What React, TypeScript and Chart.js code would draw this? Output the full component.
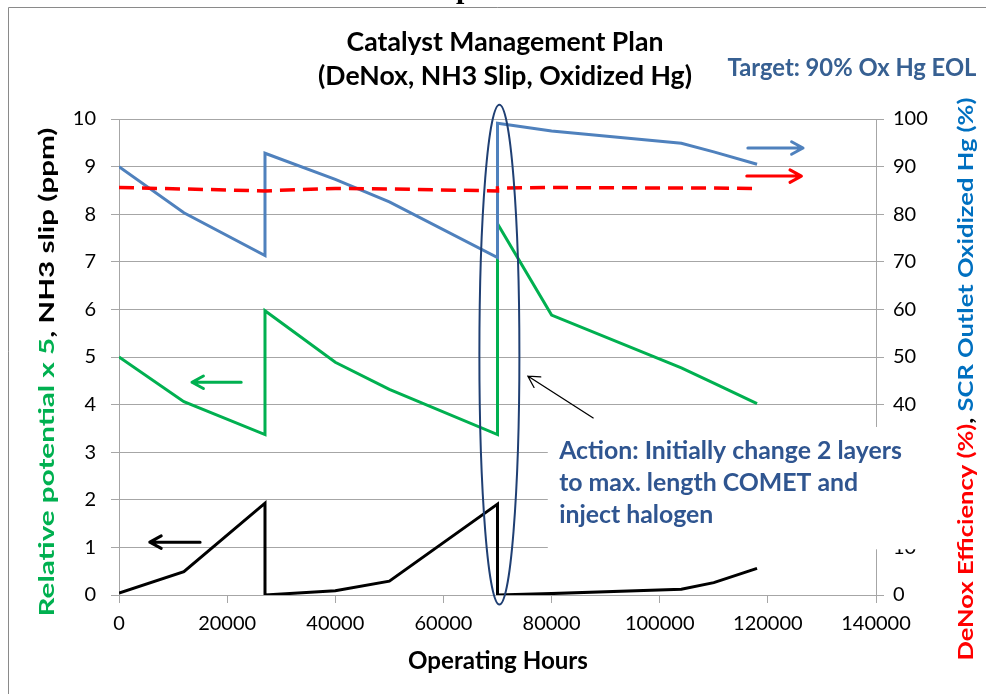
import React, { useEffect, useRef } from 'react';
import { Chart, registerables } from 'chart.js';

Chart.register(...registerables);

// ---------- data ----------
const hours = [0, 12000, 27000, 27000, 40000, 50000, 70000, 70000, 80000, 104000, 110000, 118000];
const relativePotentialX5 = [5.0, 4.06, 3.37, 5.97, 4.89, 4.32, 3.37, 7.8, 5.88, 4.77, 4.45, 4.02];
const nh3Slip = [0.04, 0.49, 1.93, 0.0, 0.09, 0.29, 1.91, 0.0, 0.03, 0.12, 0.26, 0.56];
const oxidizedHg = [90, 80.3, 71.3, 92.8, 87.3, 82.6, 70.9, 99.1, 97.5, 94.9, 93.1, 90.5];
const deNoxEfficiency = [85.6, 85.3, 84.9, 84.9, 85.4, 85.3, 84.9, 85.5, 85.6, 85.5, 85.5, 85.4];

const xRange = [0, 140000];
const xStep = 20000;
const leftRange = [0, 10];
const leftStep = 1;
const rightRange = [0, 100];
const rightStep = 10;

const titleLines = ['Catalyst Management Plan', '(DeNox, NH3 Slip, Oxidized Hg)'];
const targetText = 'Target: 90% Ox Hg EOL';
const xTitle = 'Operating Hours';
const leftTitle = [
  { t: 'Relative potential x 5', c: '#00B050' },
  { t: ', NH3 slip (ppm)', c: '#000000' },
];
const rightTitle = [
  { t: 'DeNox Efficiency (%)', c: '#FF0000' },
  { t: ', ', c: '#000000' },
  { t: 'SCR Outlet Oxidized Hg (%)', c: '#0070C0' },
];
const actionLines = ['Action: Initially change 2 layers', 'to max. length COMET and', 'inject halogen'];

const FONT = '"Lato", "DejaVu Sans", sans-serif';

function pts(ys: number[]) {
  return hours.map((h, i) => ({ x: h, y: ys[i] }));
}

function fitSize(ctx: CanvasRenderingContext2D, text: string, weight: string, width: number) {
  ctx.font = `${weight} 100px ${FONT}`;
  const w = ctx.measureText(text).width;
  return (100 * width) / w;
}

function arrow(ctx: CanvasRenderingContext2D, x1: number, y1: number, x2: number, y2: number, color: string, lw: number, head: number) {
  const a = Math.atan2(y2 - y1, x2 - x1);
  const s = 0.5;
  ctx.save();
  ctx.strokeStyle = color;
  ctx.lineWidth = lw;
  ctx.lineCap = 'round';
  ctx.lineJoin = 'round';
  ctx.beginPath();
  ctx.moveTo(x1, y1);
  ctx.lineTo(x2, y2);
  ctx.moveTo(x2 - head * Math.cos(a - s), y2 - head * Math.sin(a - s));
  ctx.lineTo(x2, y2);
  ctx.lineTo(x2 - head * Math.cos(a + s), y2 - head * Math.sin(a + s));
  ctx.stroke();
  ctx.restore();
}

// draws coloured segments rotated -90deg, at a fixed font size, squeezed horizontally to the target length
function rotatedSegments(ctx: CanvasRenderingContext2D, segs: { t: string; c: string }[], cx: number, cy: number, width: number, size: number) {
  const full = segs.map((s) => s.t).join('');
  ctx.save();
  ctx.font = `bold ${size}px ${FONT}`;
  const w = ctx.measureText(full).width;
  ctx.translate(cx, cy);
  ctx.rotate(-Math.PI / 2);
  ctx.scale(width / w, 1);
  ctx.textBaseline = 'middle';
  ctx.textAlign = 'left';
  let x = -w / 2;
  for (const s of segs) {
    ctx.fillStyle = s.c;
    ctx.fillText(s.t, x, 0);
    x += ctx.measureText(s.t).width;
  }
  ctx.restore();
}

const overlayPlugin = {
  id: 'overlay',
  beforeDraw(chart: any) {
    const ctx: CanvasRenderingContext2D = chart.ctx;
    ctx.save();
    ctx.fillStyle = '#ffffff';
    ctx.fillRect(0, 0, chart.width, chart.height);
    ctx.strokeStyle = '#8a8a8a';
    ctx.lineWidth = 1;
    ctx.beginPath();
    ctx.moveTo(8.5, chart.height + 5);
    ctx.lineTo(8.5, 7.5);
    ctx.lineTo(chart.width + 5, 7.5);
    ctx.stroke();
    ctx.fillStyle = '#000';
    ctx.font = 'bold 30px "Liberation Serif", serif';
    ctx.textBaseline = 'alphabetic';
    ctx.textAlign = 'left';
    ctx.fillText('p', 456, -2);
    ctx.restore();
  },
  afterDraw(chart: any) {
    const ctx: CanvasRenderingContext2D = chart.ctx;
    const xs = chart.scales.x;
    const yl = chart.scales.y;
    const yr = chart.scales.y2;
    const px = (v: number) => xs.getPixelForValue(v);
    const py = (v: number) => yl.getPixelForValue(v);
    const pr = (v: number) => yr.getPixelForValue(v);
    ctx.save();

    // white text box covering part of the right axis
    const bx0 = px(79300), bx1 = px(151000), by0 = py(3.53), by1 = py(0.96);
    ctx.fillStyle = '#ffffff';
    ctx.fillRect(bx0, by0, bx1 - bx0, by1 - by0);

    // action text
    const aSize = fitSize(ctx, actionLines[0], 'bold', 343);
    ctx.font = `bold ${aSize}px ${FONT}`;
    ctx.fillStyle = '#2F5590';
    ctx.textBaseline = 'middle';
    ctx.textAlign = 'left';
    const lineYs = [3.03, 2.36, 1.69];
    actionLines.forEach((l, i) => ctx.fillText(l, px(81400), py(lineYs[i])));

    // pointer arrow from text to ellipse
    arrow(ctx, px(87700), py(3.72), px(75600), py(4.6), '#000000', 1.3, 13);

    // series arrows
    arrow(ctx, px(116300), pr(93.9), px(126500), pr(93.9), '#4F81BD', 3, 13);
    arrow(ctx, px(116100), pr(88.0), px(126200), pr(88.0), '#FF0000', 3, 13);
    arrow(ctx, px(22600), py(4.47), px(13500), py(4.47), '#00B050', 3, 13);
    arrow(ctx, px(15000), py(1.11), px(5700), py(1.11), '#000000', 3, 13);

    // ellipse around the change-out
    const ecx = px(70350), ecy = py(5.05);
    const erx = px(70350 + 3700) - ecx;
    const ery = py(0) - py(5.25);
    ctx.strokeStyle = '#1F3F73';
    ctx.lineWidth = 2;
    ctx.beginPath();
    ctx.ellipse(ecx, ecy, erx, ery, 0, 0, Math.PI * 2);
    ctx.stroke();

    // titles
    const tSize = fitSize(ctx, titleLines[1], 'bold', 374);
    ctx.font = `bold ${tSize}px ${FONT}`;
    ctx.fillStyle = '#000';
    ctx.textAlign = 'center';
    ctx.textBaseline = 'middle';
    ctx.fillText(titleLines[0], 505, 42);
    ctx.fillText(titleLines[1], 505, 76);

    const tgSize = fitSize(ctx, targetText, 'bold', 249);
    ctx.font = `bold ${tgSize}px ${FONT}`;
    ctx.fillStyle = '#376092';
    ctx.fillText(targetText, 852, 68);

    const xtSize = fitSize(ctx, xTitle, 'bold', 180);
    ctx.font = `bold ${xtSize}px ${FONT}`;
    ctx.fillStyle = '#000';
    ctx.fillText(xTitle, 498, 661);

    rotatedSegments(ctx, leftTitle, 47, 372, 489, 21);
    rotatedSegments(ctx, rightTitle, 966, 379, 563, 21);

    ctx.restore();
  },
};

export default function App() {
  const ref = useRef<HTMLCanvasElement | null>(null);
  useEffect(() => {
    if (!ref.current) return;
    const grid = '#a6a6a6';
    const tickFont = { family: FONT, size: 20 };
    const chart = new Chart(ref.current, {
      type: 'line',
      data: {
        datasets: [
          {
            label: 'DeNox Efficiency (%)',
            data: pts(deNoxEfficiency),
            yAxisID: 'y2',
            borderColor: '#FF0000',
            borderWidth: 3.5,
            borderDash: [15, 8],
            pointRadius: 0,
            tension: 0,
            fill: false,
          },
          {
            label: 'SCR Outlet Oxidized Hg (%)',
            data: pts(oxidizedHg),
            yAxisID: 'y2',
            borderColor: '#4F81BD',
            borderWidth: 3,
            pointRadius: 0,
            tension: 0,
            fill: false,
          },
          {
            label: 'Relative potential x 5',
            data: pts(relativePotentialX5),
            yAxisID: 'y',
            borderColor: '#00B050',
            borderWidth: 3,
            pointRadius: 0,
            tension: 0,
            fill: false,
          },
          {
            label: 'NH3 slip (ppm)',
            data: pts(nh3Slip),
            yAxisID: 'y',
            borderColor: '#000000',
            borderWidth: 3,
            pointRadius: 0,
            tension: 0,
            fill: false,
          },
        ],
      },
      options: {
        animation: false,
        responsive: false,
        devicePixelRatio: 1,
        layout: { padding: { top: 119, left: 0, right: 0, bottom: 0 } },
        plugins: { legend: { display: false }, tooltip: { enabled: false }, title: { display: false } },
        events: [],
        scales: {
          x: {
            type: 'linear',
            min: xRange[0],
            max: xRange[1],
            ticks: { stepSize: xStep, color: '#000', font: tickFont, padding: 9, callback: (v: any) => String(v), maxRotation: 0 },
            grid: { drawOnChartArea: false, drawTicks: true, tickLength: 8, color: grid },
            border: { color: grid, width: 1 },
            afterFit: (s: any) => { s.height = 99; },
          },
          y: {
            type: 'linear',
            position: 'left',
            min: leftRange[0],
            max: leftRange[1],
            ticks: { stepSize: leftStep, color: '#000', font: tickFont, padding: 15 },
            grid: { color: grid, tickLength: 8, lineWidth: 1 },
            border: { color: grid, width: 1 },
            afterFit: (s: any) => { s.width = 119; },
          },
          y2: {
            type: 'linear',
            position: 'right',
            min: rightRange[0],
            max: rightRange[1],
            ticks: { stepSize: rightStep, color: '#000', font: tickFont, padding: 9 },
            grid: { drawOnChartArea: false, tickLength: 8, color: grid },
            border: { color: grid, width: 1 },
            afterFit: (s: any) => { s.width = 110; },
          },
        },
      },
      plugins: [overlayPlugin],
    } as any);
    return () => chart.destroy();
  }, []);
  return (
    <div style={{ position: 'fixed', left: 0, top: 0, width: 986, height: 694, background: '#fff' }}>
      <canvas ref={ref} width={986} height={694} style={{ display: 'block' }} />
    </div>
  );
}
